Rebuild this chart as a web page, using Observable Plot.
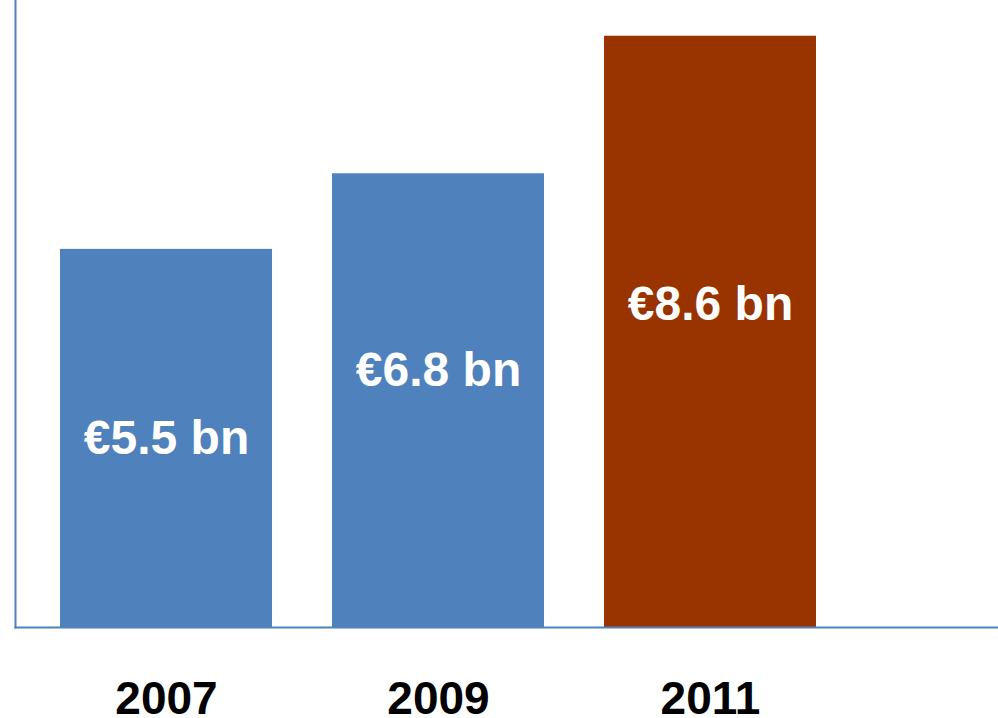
<!DOCTYPE html>
<html>
<head>
<meta charset="utf-8">
<script src="https://cdn.jsdelivr.net/npm/d3@7"></script>
<script src="https://cdn.jsdelivr.net/npm/@observablehq/plot@0.6"></script>
<style>
  html, body { margin: 0; padding: 0; background: #fff; }
  #chart svg { display: block; }
</style>
</head>
<body>
<div id="chart"></div>
<script>
const years = ["2007", "2009", "2011"];
const values = [5.5, 6.6, 8.6];
const labels = ["€5.5 bn", "€6.8 bn", "€8.6 bn"];
const labelAt = [2.75, 3.74, 4.69];

const data = years.map((y, i) => ({year: y, value: values[i], label: labels[i], labelAt: labelAt[i]}));

const axisBlue = "#4F81BD";

const chart = Plot.plot({
  width: 998,
  height: 718,
  marginLeft: 15,
  marginRight: 0,
  marginTop: 0,
  marginBottom: 91,
  style: {fontFamily: "'Liberation Sans', Arial, sans-serif", background: "#fff"},
  x: {domain: years, range: [30, 846], paddingInner: 0.2206, paddingOuter: 0.1103, label: null},
  y: {domain: [0, 9.12], range: [627, 0], axis: null},
  color: {domain: years, range: [axisBlue, axisBlue, "#993300"]},
  marks: [
    Plot.barY(data, {x: "year", y: "value", fill: "year"}),
    Plot.frame({anchor: "left", stroke: axisBlue, strokeWidth: 2}),
    Plot.frame({anchor: "bottom", stroke: axisBlue, strokeWidth: 2}),
    Plot.text(data, {x: "year", y: "labelAt", text: "label", fill: "white", fontSize: 48, fontWeight: "bold"}),
    Plot.axisX({tickSize: 0, tickPadding: 54, fontSize: 46, fontWeight: "bold", fill: "black", label: null})
  ]
});
document.getElementById("chart").appendChild(chart);
</script>
</body>
</html>
